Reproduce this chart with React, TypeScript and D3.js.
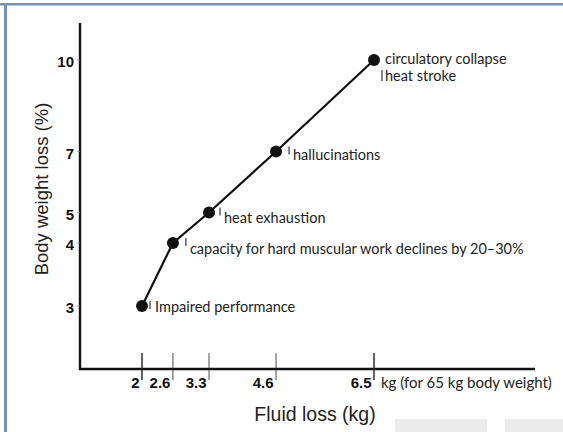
import React from "react";
import * as d3 from "d3";

const fluidLoss = [2, 2.6, 3.3, 4.6, 6.5];
const fluidLabels = ["2", "2.6", "3.3", "4.6", "6.5"];
const weightLoss = [3, 4, 5, 7, 10];
const weightTicks = [3, 4, 5, 7, 10];
const effects: string[][] = [
  ["Impaired performance"],
  ["capacity for hard muscular work declines by 20–30%"],
  ["heat exhaustion"],
  ["hallucinations"],
  ["circulatory collapse", "heat stroke"],
];
const xUnit = "kg (for 65 kg body weight)";
const xTitle = "Fluid loss (kg)";
const yTitle = "Body weight loss (%)";

// label layout offsets (relative to each point), not data
const labelDx = [13, 17, 15, 17, 11];
const labelDy = [6, 11, 10, 8, 4];
const barDx = [8, 13, 11, 13, 8];

const W = 563;
const H = 432;

export default function App() {
  const x = d3.scaleLinear().domain([2, 6.5]).range([142, 374]);
  // linear from 4% upward, with a break below 4%
  const y = d3.scaleLinear().domain([3, 4, 10]).range([306, 243, 60]);
  const axisX = 80;
  const axisY = 369;
  const axisTop = 23;
  const axisRight = 535;

  const pts = fluidLoss.map((f, i) => [x(f), y(weightLoss[i])] as [number, number]);
  const line = d3.line()(pts) || "";

  const annoFont = "Lato, 'Open Sans', sans-serif";
  const tickFont = "'Liberation Sans', Arial, sans-serif";

  return (
    <svg
      width={W}
      height={H}
      style={{ position: "absolute", left: 0, top: 0, background: "#fff" }}
    >
      {/* frame */}
      <rect x={0} y={3} width={W} height={2.5} fill="#7391b8" />
      <rect x={4} y={3} width={3} height={H - 3} fill="#7391b8" />
      <rect x={395} y={419} width={92} height={13} fill="#ececec" />
      <rect x={505} y={419} width={58} height={13} fill="#ececec" />

      {/* axes */}
      <line x1={axisX} y1={axisTop} x2={axisX} y2={axisY + 1} stroke="#111" strokeWidth={2.4} />
      <line x1={axisX - 1} y1={axisY} x2={axisRight} y2={axisY} stroke="#111" strokeWidth={2.4} />

      {/* y ticks */}
      {weightTicks.map((t) => (
        <g key={"yt" + t}>
          <line x1={axisX - 3} x2={axisX} y1={y(t)} y2={y(t)} stroke="#888" strokeWidth={0.7} />
          <text
            x={74}
            y={y(t) + 7}
            textAnchor="end"
            fontFamily={tickFont}
            fontWeight="bold"
            fontSize={15}
            fill="#111"
          >
            {t}
          </text>
        </g>
      ))}

      {/* x ticks */}
      {fluidLoss.map((f, i) => (
        <g key={"xt" + f}>
          <line
            x1={x(f)}
            x2={x(f)}
            y1={axisY - 16}
            y2={axisY + 11}
            stroke="#222"
            strokeWidth={i === 0 || i === 4 ? 1.4 : 0.8}
          />
          <text
            x={x(f) - 2.5}
            y={axisY + 19}
            textAnchor="end"
            fontFamily={tickFont}
            fontWeight="bold"
            fontSize={15}
            fill="#111"
          >
            {fluidLabels[i]}
          </text>
        </g>
      ))}
      <text x={x(6.5) + 7} y={axisY + 19} fontFamily={annoFont} fontSize={15} fill="#222">
        {xUnit}
      </text>

      {/* titles */}
      <text
        x={315}
        y={421}
        textAnchor="middle"
        fontFamily={tickFont}
        fontSize={19.5}
        fill="#222"
      >
        {xTitle}
      </text>
      <text
        transform={`translate(48,${189}) rotate(-90)`}
        textAnchor="middle"
        fontFamily={tickFont}
        fontSize={18.5}
        fill="#222"
      >
        {yTitle}
      </text>

      {/* data line */}
      <path d={line} fill="none" stroke="#111" strokeWidth={2.2} />
      {pts.map(([px, py], i) => (
        <circle key={"p" + i} cx={px} cy={py} r={6} fill="#111" />
      ))}

      {/* annotations */}
      {pts.map(([px, py], i) => {
        const lines = effects[i];
        const tx = px + labelDx[i];
        const baseY = py + labelDy[i];
        const multi = lines.length > 1;
        return (
          <g key={"a" + i}>
            <line
              x1={px + barDx[i]}
              x2={px + barDx[i]}
              y1={multi ? py + 10 : py - 5}
              y2={multi ? py + 21 : py + 3}
              stroke="#333"
              strokeWidth={1.2}
            />
            {lines.map((s, j) => (
              <text
                key={j}
                x={tx}
                y={baseY + j * 16.5}
                fontFamily={annoFont}
                fontSize={14.5}
                fill="#222"
              >
                {s}
              </text>
            ))}
          </g>
        );
      })}
    </svg>
  );
}
